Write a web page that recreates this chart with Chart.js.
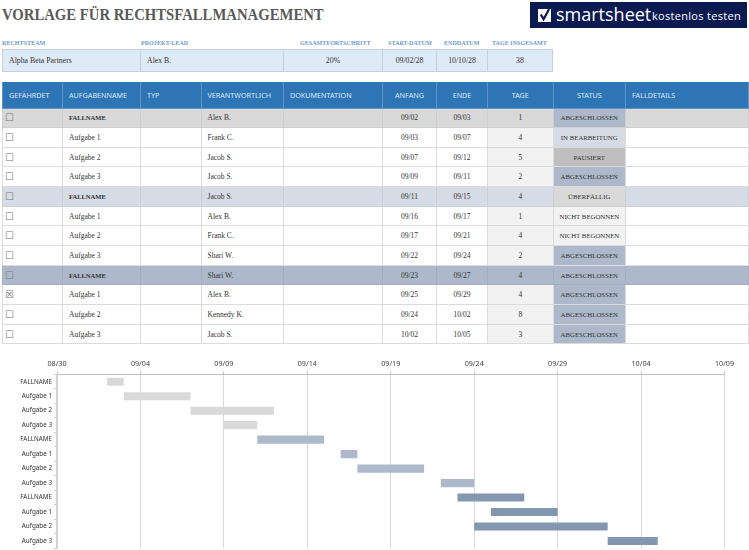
<!DOCTYPE html>
<html>
<head>
<meta charset="utf-8">
<title>Vorlage für Rechtsfallmanagement</title>
<script src="https://cdn.jsdelivr.net/npm/chart.js@4/dist/chart.umd.min.js"></script>
<style>
  html, body { margin:0; padding:0; background:#fff; width:749px; height:550px; overflow:hidden; }
  body { position:relative; font-family:"Liberation Serif",serif; color:#333; }
  .title { position:absolute; left:2px; top:6px; font:bold 16px "Liberation Serif",serif; color:#595959; white-space:nowrap; transform:scaleX(.92); transform-origin:left; }
  .logo { position:absolute; left:530px; top:2px; width:217px; height:26px; background:#0b1b52; color:#fff; overflow:hidden; }
  .logo svg { position:absolute; left:8px; top:6px; }
  .logo .brand { position:absolute; left:26px; top:-1px; font:500 18px/26px "Open Sans",sans-serif; }
  .logo .cta { position:absolute; left:122px; top:0; font:11px/27px "Open Sans",sans-serif; letter-spacing:.3px; white-space:nowrap; }
  .lbl { position:absolute; top:40px; font:6.1px "Liberation Serif",serif; font-weight:bold; color:#6f9acb; white-space:nowrap; }
  table { position:absolute; border-collapse:collapse; table-layout:fixed; left:2px; }
  td, th { border:1px solid #dcdcdc; padding:0 6px; white-space:nowrap; overflow:hidden; font-weight:normal; box-sizing:border-box; }
  #info { top:49px; width:550px; }
  #info td { height:22px; background:#deeaf6; border-color:#c5d0dc; font:7.8px "Liberation Serif",serif; color:#333; }
  #tasks { top:82px; width:746px; }
  #tasks th { height:26px; background:#2e75b6; border-color:#5d95c8; border-top:0; color:#dbe7f3; font:7.2px "Noto Sans",sans-serif; text-align:left; }
  #tasks td { height:19.67px; font:7.5px "Liberation Serif",serif; color:#333; }
  #tasks td.caps { font-size:6.8px; }
  #tasks td.case { font-size:6.5px; font-weight:bold; }
  .c { text-align:center !important; }
  .box { font:10px "DejaVu Sans",sans-serif !important; padding-left:2px !important; color:#777 !important; }
  #gantt { position:absolute; left:0; top:350px; }
</style>
</head>
<body>
<div class="title">VORLAGE FÜR RECHTSFALLMANAGEMENT</div>
<div class="logo">
  <svg width="13" height="14" viewBox="0 0 14 15"><path d="M0 1h14v14H0z" fill="#fff"/><path d="M3 7l3 5 6-11" fill="none" stroke="#0b1b52" stroke-width="2.4"/></svg>
  <span class="brand">smartsheet</span><span class="cta">kostenlos testen</span>
</div>
<div id="labels"></div>
<table id="info"></table>
<table id="tasks"></table>
<canvas id="gantt" width="749" height="204"></canvas>

<script>
// Kopfzeile
const infoLabels = ['RECHTSTEAM', 'PROJEKT-LEAD', 'GESAMTFORTSCHRITT', 'START-DATUM', 'ENDDATUM', 'TAGE INSGESAMT'];
const infoValues = ['Alpha Beta Partners', 'Alex B.', '20%', '09/02/28', '10/10/28', '38'];

// Tabelle
const headers = ['GEFÄHRDET', 'AUFGABENNAME', 'TYP', 'VERANTWORTLICH', 'DOKUMENTATION', 'ANFANG', 'ENDE', 'TAGE', 'STATUS', 'FALLDETAILS'];
const taskNames = ['FALLNAME', 'Aufgabe 1', 'Aufgabe 2', 'Aufgabe 3', 'FALLNAME', 'Aufgabe 1', 'Aufgabe 2', 'Aufgabe 3', 'FALLNAME', 'Aufgabe 1', 'Aufgabe 2', 'Aufgabe 3'];
const owners = ['Alex B.', 'Frank C.', 'Jacob S.', 'Jacob S.', 'Jacob S.', 'Alex B.', 'Frank C.', 'Shari W.', 'Shari W.', 'Alex B.', 'Kennedy K.', 'Jacob S.'];
const startDates = ['09/02', '09/03', '09/07', '09/09', '09/11', '09/16', '09/17', '09/22', '09/23', '09/25', '09/24', '10/02'];
const endDates = ['09/03', '09/07', '09/12', '09/11', '09/15', '09/17', '09/21', '09/24', '09/27', '09/29', '10/02', '10/05'];
const days = [1, 4, 5, 2, 4, 1, 4, 2, 4, 4, 8, 3];
const statuses = ['ABGESCHLOSSEN', 'IN BEARBEITUNG', 'PAUSIERT', 'ABGESCHLOSSEN', 'ÜBERFÄLLIG', 'NICHT BEGONNEN', 'NICHT BEGONNEN', 'ABGESCHLOSSEN', 'ABGESCHLOSSEN', 'ABGESCHLOSSEN', 'ABGESCHLOSSEN', 'ABGESCHLOSSEN'];
const atRisk = [false, false, false, false, false, false, false, false, false, true, false, false];

// Gantt
const tickDates = ['08/30', '09/04', '09/09', '09/14', '09/19', '09/24', '09/29', '10/04', '10/09'];
const barColors = ['#d9d9d9', '#d9d9d9', '#d9d9d9', '#d9d9d9', '#adb9ca', '#adb9ca', '#adb9ca', '#adb9ca', '#8497b0', '#8497b0', '#8497b0', '#8497b0'];

const statusColors = { 'ABGESCHLOSSEN':'#adb9ca', 'IN BEARBEITUNG':'#d6dce5', 'PAUSIERT':'#bfbfbf', 'ÜBERFÄLLIG':'#d9d9d9', 'NICHT BEGONNEN':'#f2f2f2' };
const caseRowColors = { 0:'#d9d9d9', 4:'#d6dce5', 8:'#adb9ca' };

function colgroup(widths) {
  return '<colgroup>' + widths.map(w => `<col style="width:${w}px">`).join('') + '</colgroup>';
}

// Kopfbereich
const infoWidths = [138, 143, 99, 54, 51, 65];
const labelX = [2, 141, 300, 388, 444, 492];
document.getElementById('labels').innerHTML = infoLabels.map((l, i) => `<div class="lbl" style="left:${labelX[i]}px">${l}</div>`).join('');
document.getElementById('info').innerHTML = colgroup(infoWidths) + '<tr>' + infoValues.map((v, i) => `<td class="${i > 1 ? 'c' : ''}">${v}</td>`).join('') + '</tr>';

// Aufgabentabelle
const colWidths = [60, 78, 60.5, 82.5, 99, 54, 51, 65.5, 72.5, 123];
let html = colgroup(colWidths) + '<tr>' + headers.map((h, i) => `<th class="${i >= 5 && i <= 8 ? 'c' : ''}">${h}</th>`).join('') + '</tr>';
taskNames.forEach((name, i) => {
  const bg = caseRowColors[i];
  const rowStyle = bg ? `background:${bg};border-color:${bg === '#adb9ca' ? '#a3b0c2' : '#cfcfcf'};` : '';
  const tageBg = bg || '#f2f2f2';
  html += `<tr style="background:${bg || '#fff'}">
    <td class="box" style="${rowStyle}">${atRisk[i] ? '☒' : '☐'}</td>
    <td class="${bg ? 'case' : ''}" style="${rowStyle}">${name}</td>
    <td style="${rowStyle}"></td>
    <td style="${rowStyle}">${owners[i]}</td>
    <td style="${rowStyle}"></td>
    <td class="c" style="${rowStyle}">${startDates[i]}</td>
    <td class="c" style="${rowStyle}">${endDates[i]}</td>
    <td class="c" style="${rowStyle}background:${tageBg}">${days[i]}</td>
    <td class="c caps" style="${rowStyle}background:${statusColors[statuses[i]]}">${statuses[i]}</td>
    <td style="${rowStyle}"></td>
  </tr>`;
});
document.getElementById('tasks').innerHTML = html;

// Tage seit 08/30 (nur für die x-Achse)
function dayOffset(d) {
  const [m, t] = d.split('/').map(Number);
  return (Date.UTC(2028, m - 1, t) - Date.UTC(2028, 7, 30)) / 86400000;
}

new Chart(document.getElementById('gantt').getContext('2d'), {
  type: 'bar',
  data: {
    labels: taskNames,
    datasets: [{
      data: startDates.map((s, i) => [dayOffset(s), dayOffset(endDates[i])]),
      backgroundColor: barColors,
      borderWidth: 0,
      borderSkipped: false,
      categoryPercentage: 1,
      barPercentage: 0.56
    }]
  },
  options: {
    indexAxis: 'y',
    responsive: false,
    animation: false,
    layout: { padding: { left: 0, right: 24.5, top: 0, bottom: 2 } },
    plugins: { legend: { display: false }, tooltip: { enabled: false } },
    scales: {
      x: {
        position: 'top',
        min: 0,
        max: dayOffset('10/09'),
        afterBuildTicks: s => { s.ticks = tickDates.map(d => ({ value: dayOffset(d) })); },
        afterFit: s => { s.height = 24.5; },
        grid: { color: '#d9d9d9', lineWidth: 1, tickLength: 3, tickColor: '#bfbfbf' },
        border: { color: '#bfbfbf', width: 1 },
        ticks: {
          autoSkip: false, maxRotation: 0, padding: 3,
          color: '#444', font: { family: 'Noto Sans', size: 7.2 },
          callback: (v) => tickDates.find(d => dayOffset(d) === v)
        }
      },
      y: {
        offset: true,
        afterFit: s => { s.width = 57; },
        grid: { drawOnChartArea: false, tickLength: 3, tickColor: '#cfcfcf' },
        border: { color: '#d0d0d0', width: 1.5 },
        ticks: { autoSkip: false, padding: 2, color: '#333', font: { family: 'Noto Sans', size: 6.3 } }
      }
    }
  }
});
</script>
</body>
</html>
